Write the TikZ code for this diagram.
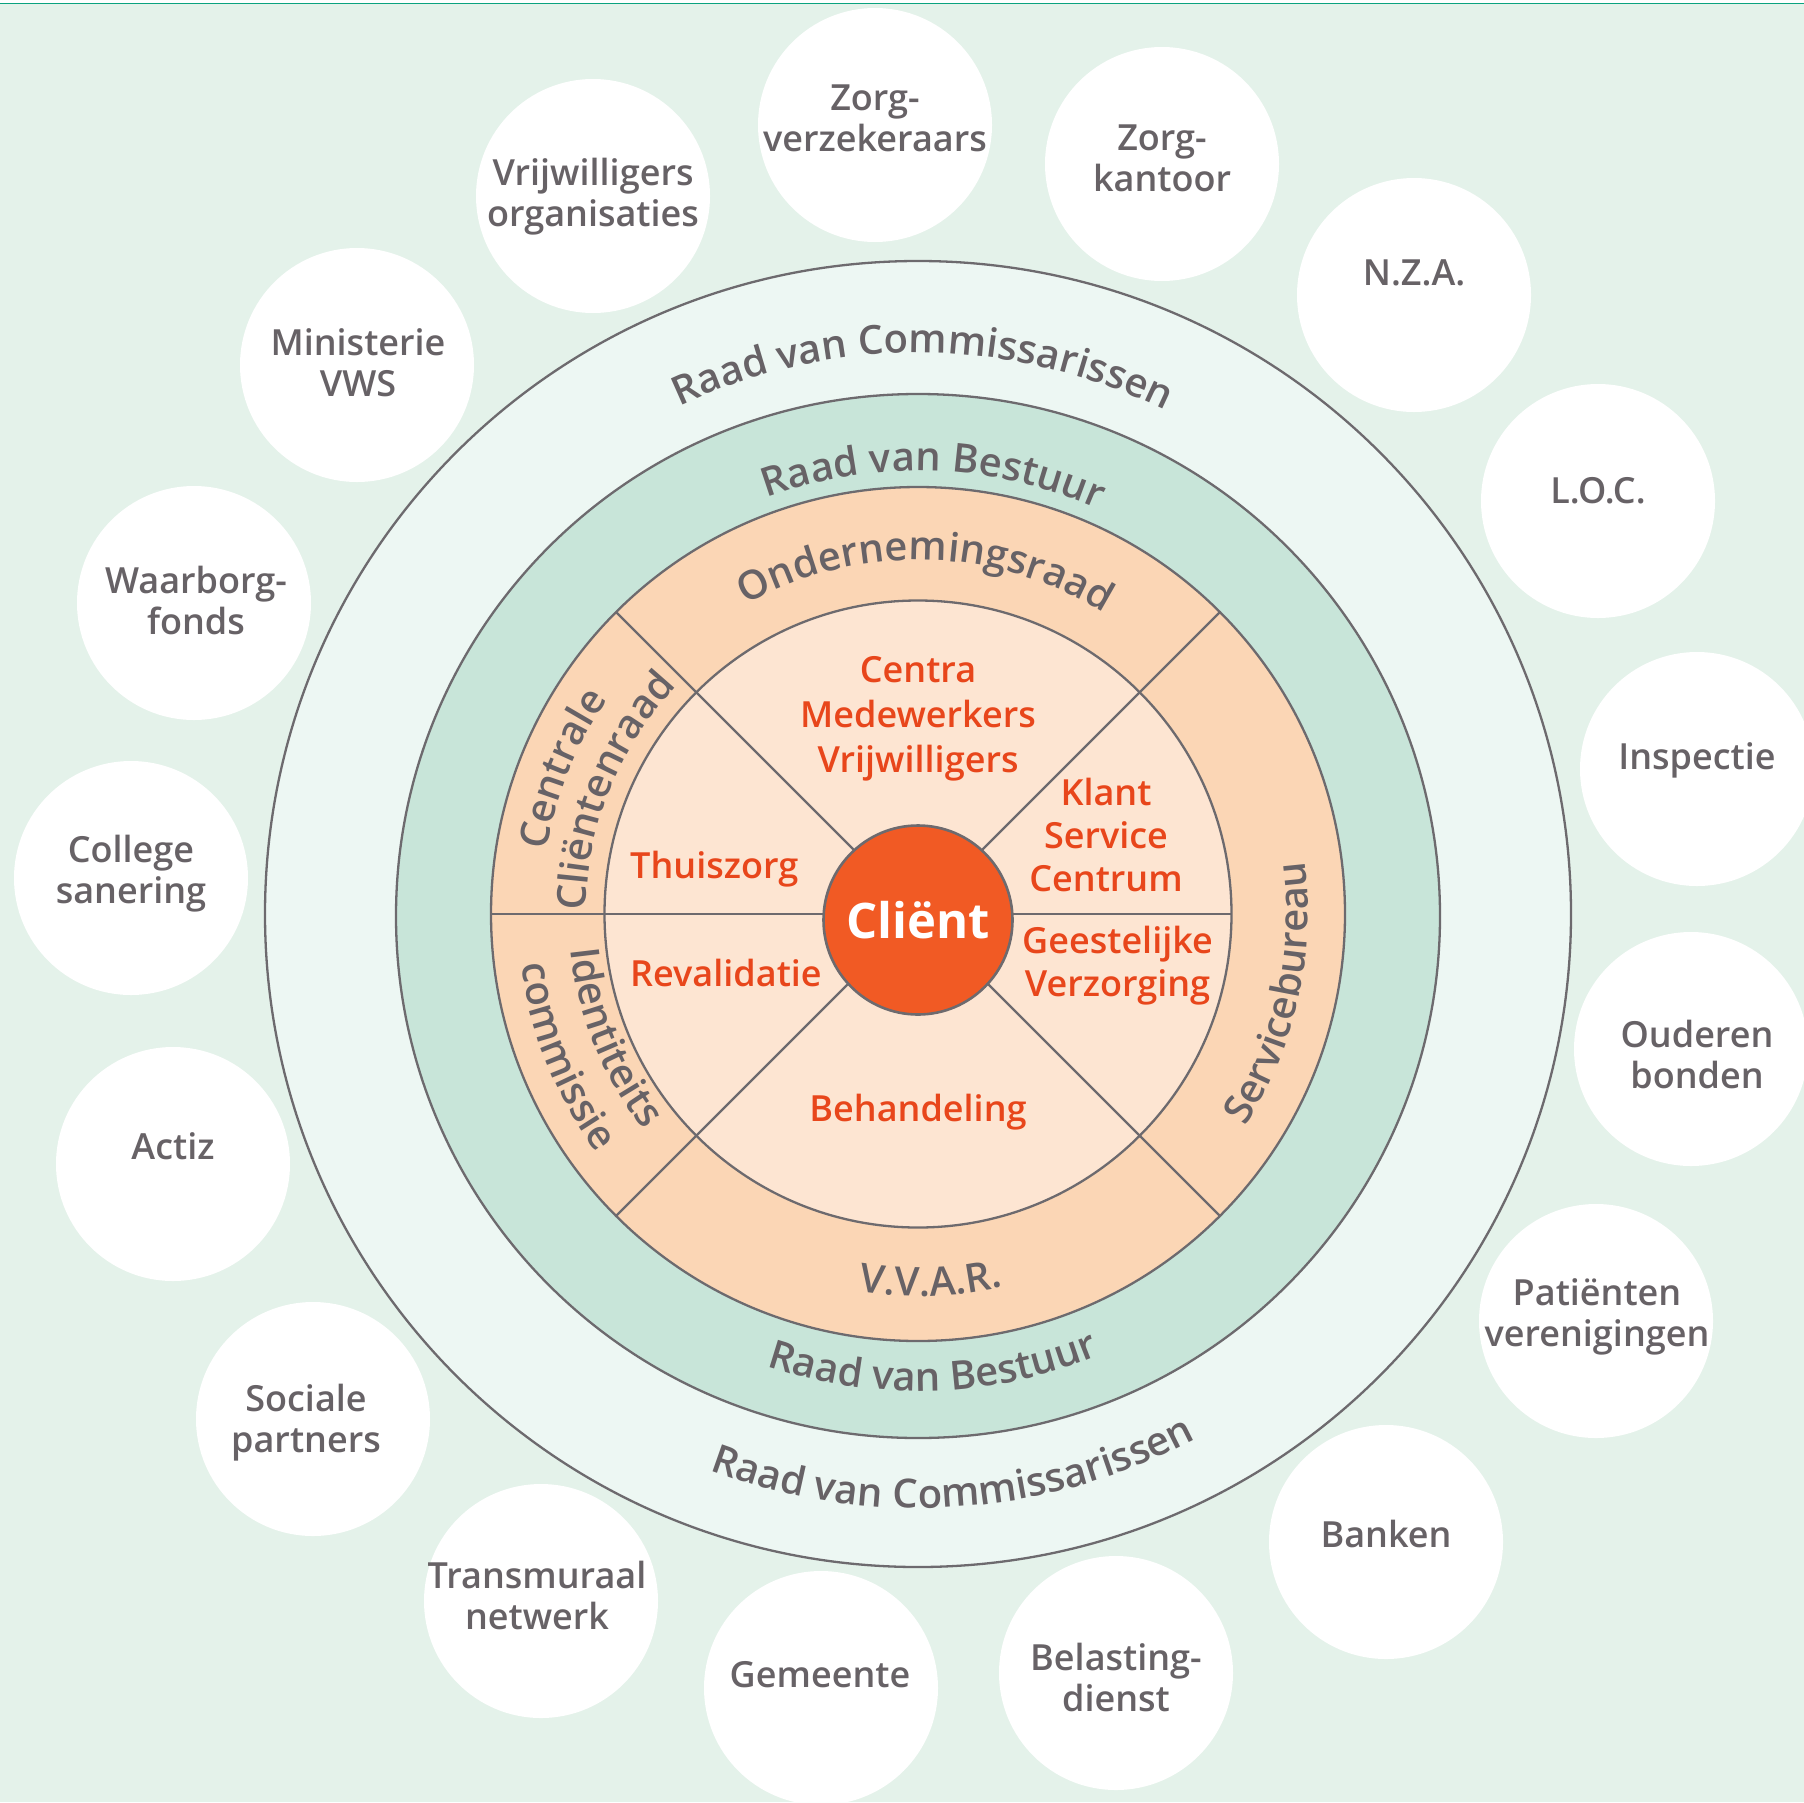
\documentclass[tikz,border=0pt]{standalone}
\usepackage{fontspec}
\usetikzlibrary{decorations.text}
\IfFontExistsTF{Open Sans SemiBold}{\setmainfont{Open Sans SemiBold}}{%
  \IfFontExistsTF{Open Sans Semibold}{\setmainfont{Open Sans Semibold}}{\setmainfont{Open Sans}}}
\newfontfamily\boldsans{Open Sans}
\definecolor{bg}{HTML}{E4F2EA}
\definecolor{ringA}{HTML}{EDF7F3}
\definecolor{ringB}{HTML}{C8E5D9}
\definecolor{ringC}{HTML}{FBD6B5}
\definecolor{ringD}{HTML}{FDE5D2}
\definecolor{corange}{HTML}{F15A24}
\definecolor{torange}{HTML}{E8461B}
\definecolor{tgray}{HTML}{676266}
\definecolor{linegray}{HTML}{6D6A6E}
\definecolor{topgreen}{HTML}{0AA37F}
\newcommand\ringfmt{\fontsize{40}{48}\selectfont\color{tgray}}
\begin{document}
\begin{tikzpicture}[x=1pt,y=1pt,
  ring/.style={draw=linegray, line width=2.3pt},
  sector/.style={draw=linegray, line width=2.3pt},
  orgcircle/.style={circle, fill=white, minimum size=234pt, inner sep=0pt},
  orgtext/.style={text=tgray, align=center, font=\fontsize{36}{41}\selectfont, inner sep=0pt},
  innertext/.style={text=torange, align=center, font=\fontsize{36}{43}\selectfont, inner sep=0pt},
  curved/.style={decorate, decoration={text along path, text align=center, text={#1}}}]
\useasboundingbox (0,0) rectangle (1804,-1802);
\clip (0,0) rectangle (1804,-1802);
\fill[bg] (0,0) rectangle (1804,-1802);
\fill[white] (0,0) rectangle (1804,-2.6);
\draw[topgreen, line width=1.6pt] (0,-3.4) -- (1804,-3.4);

% outer organisations
\node[orgcircle] (c1) at (593,-196) {};
\node[orgcircle] (c2) at (875,-125) {};
\node[orgcircle] (c3) at (1162,-164) {};
\node[orgcircle] (c4) at (1414,-295) {};
\node[orgcircle] (c5) at (1598,-501) {};
\node[orgcircle] (c6) at (1697,-769) {};
\node[orgcircle] (c7) at (1691,-1049) {};
\node[orgcircle] (c8) at (1596,-1321) {};
\node[orgcircle] (c9) at (1386,-1542) {};
\node[orgcircle] (c10) at (1116,-1673) {};
\node[orgcircle] (c11) at (821,-1688) {};
\node[orgcircle] (c12) at (541,-1601) {};
\node[orgcircle] (c13) at (313,-1419) {};
\node[orgcircle] (c14) at (173,-1164) {};
\node[orgcircle] (c15) at (131,-878) {};
\node[orgcircle] (c16) at (194,-603) {};
\node[orgcircle] (c17) at (357,-365) {};

\node[orgtext] (t1) at (593,-197) {Vrijwilligers\\organisaties};
\node[orgtext] (t2) at (875,-118) {Zorg-\\verzekeraars};
\node[orgtext] (t3) at (1162,-158) {Zorg-\\kantoor};
\node[orgtext] (t4) at (1414,-273) {N.Z.A.};
\node[orgtext] (t5) at (1598,-491) {L.O.C.};
\node[orgtext] (t6) at (1697,-760) {Inspectie};
\node[orgtext] (t7) at (1697,-1054) {Ouderen\\bonden};
\node[orgtext] (t8) at (1597,-1317) {Patiënten\\verenigingen};
\node[orgtext] (t9) at (1386,-1534) {Banken};
\node[orgtext] (t10) at (1116,-1677) {Belasting-\\dienst};
\node[orgtext] (t11) at (820,-1675) {Gemeente};
\node[orgtext] (t12) at (537,-1595) {Transmuraal\\netwerk};
\node[orgtext] (t13) at (306,-1423) {Sociale\\partners};
\node[orgtext] (t14) at (173,-1146) {Actiz};
\node[orgtext] (t15) at (131,-874) {College\\sanering};
\node[orgtext] (t16) at (196,-600) {Waarborg-\\fonds};
\node[orgtext] (t17) at (358,-363) {Ministerie\\VWS};

% rings
\coordinate (O) at (918,-914);
\draw[ring, fill=ringA] (O) circle[radius=653];
\draw[ring, fill=ringB] (918,-916) circle[radius=522];
\draw[ring, fill=ringC] (O) circle[radius=427];
\draw[ring, fill=ringD] (O) circle[radius=313.5];

% sector lines (from the centre, the client disc is laid over them)
\foreach \a in {45,135,180,225,315} {
  \coordinate (out\a) at ([shift={(918,-914)}]\a:427);
  \draw[sector] (O) -- (out\a);
}
\coordinate (in0) at ([shift={(918,-914)}]0:313.5);
\draw[sector] (O) -- (in0);

% client
\node[circle, fill=corange, draw=linegray, line width=2.6pt, minimum size=189pt, inner sep=0pt,
      text=white, font=\boldsans\bfseries\fontsize{49}{55}\selectfont] (client) at (918,-920) {Cliënt};

% curved ring texts (top: clockwise, bottom: counter-clockwise)
\path[curved={|\ringfmt|Raad van Commissarissen}] ([shift={(918,-914)}]159.5:561) arc[start angle=159.5, end angle=19.5, radius=561];
\path[curved={|\ringfmt|Raad van Bestuur}] ([shift={(918,-914)}]158:443) arc[start angle=158, end angle=18, radius=443];
\path[curved={|\ringfmt|Ondernemingsraad}] ([shift={(918,-914)}]158.7:354) arc[start angle=158.7, end angle=18.7, radius=354];
\path[curved={|\ringfmt|Raad van Commissarissen}] ([shift={(918,-914)}]203.7:594) arc[start angle=203.7, end angle=343.7, radius=594];
\path[curved={|\ringfmt|Raad van Bestuur}] ([shift={(918,-914)}]201.9:477) arc[start angle=201.9, end angle=341.9, radius=477];
\path[curved={|\ringfmt|V.V.A.R.}] ([shift={(918,-914)}]202:382) arc[start angle=202, end angle=342, radius=382];
\path[curved={|\ringfmt|Servicebureau}] ([shift={(918,-914)}]-82.6:390) arc[start angle=-82.6, end angle=57.4, radius=390];
\path[curved={|\ringfmt|Centrale}] ([shift={(918,-914)}]197.8:377) arc[start angle=197.8, end angle=117.8, radius=377];
\path[curved={|\ringfmt|Cliëntenraad}] ([shift={(918,-914)}]198:332) arc[start angle=198, end angle=118, radius=332];
\path[curved={|\ringfmt|Identiteits}] ([shift={(918,-914)}]162:349) arc[start angle=162, end angle=242, radius=349];
\path[curved={|\ringfmt|commissie}] ([shift={(918,-914)}]162:400) arc[start angle=162, end angle=242, radius=400];

% inner sector texts
\node[innertext, font=\fontsize{36}{45}\selectfont] (centra) at (918,-719) {Centra\\Medewerkers\\Vrijwilligers};
\node[innertext] (klant) at (1106,-835) {Klant\\Service\\Centrum};
\node[innertext, anchor=west] (thuis) at (630,-869) {Thuiszorg};
\node[innertext, anchor=west] (reval) at (630,-973) {Revalidatie};
\node[innertext, anchor=west] (geest) at (1022,-966) {Geestelijke\\Verzorging};
\node[innertext] (behand) at (918,-1112) {Behandeling};
\end{tikzpicture}
\end{document}
